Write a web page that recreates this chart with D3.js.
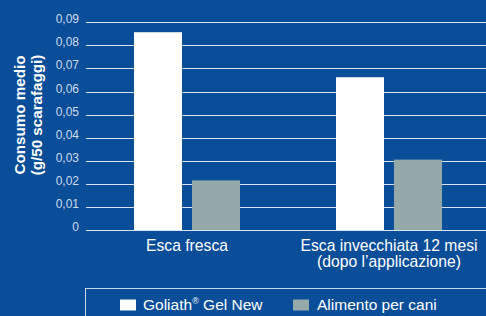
<!DOCTYPE html>
<html><head><meta charset="utf-8">
<script src="https://cdn.jsdelivr.net/npm/d3@7"></script>
<style>html,body{margin:0;padding:0;background:#0a4d98;}svg{display:block;}</style>
</head><body>
<script>
const categories = [["Esca fresca"], ["Esca invecchiata 12 mesi", "(dopo l\u2019applicazione)"]];
const seriesNames = ["Goliath", "Alimento per cani"];
const goliathValues = [0.0857, 0.0662];
const alimentoValues = [0.0215, 0.0305];
const yTicks = [0, 0.01, 0.02, 0.03, 0.04, 0.05, 0.06, 0.07, 0.08, 0.09];
const tickLabels = ["0", "0,01", "0,02", "0,03", "0,04", "0,05", "0,06", "0,07", "0,08", "0,09"];
const colors = ["#ffffff", "#95a8aa"];

const W = 486, H = 316;
const svg = d3.select("body").append("svg").attr("width", W).attr("height", H);
svg.append("rect").attr("width", W).attr("height", H).attr("fill", "#0a4d98");

const font = "'Liberation Sans', Arial, Helvetica, sans-serif";
const y = d3.scaleLinear().domain([0, 0.09]).range([230, 22.3]);
const x0 = d3.scaleBand().domain([0, 1]).range([86, 490]).paddingInner(0).paddingOuter(0);
const x1 = d3.scaleBand().domain([0, 1]).range([-53, 53]).paddingInner(0.1724);

// gridlines
svg.append("g").selectAll("line").data(yTicks).join("line")
  .attr("x1", 86).attr("x2", W).attr("y1", d => Math.round(y(d)) + 0.5).attr("y2", d => Math.round(y(d)) + 0.5)
  .attr("stroke", "#ffffff").attr("stroke-opacity", 0.85).attr("stroke-width", 1);

// tick labels
svg.append("g").selectAll("text").data(yTicks).join("text")
  .attr("x", 79).attr("y", d => y(d) + 1)
  .attr("text-anchor", "end").attr("font-family", font).attr("font-size", 12)
  .attr("fill", "#cddcee").text((d, i) => tickLabels[i]);

// bars
const data = categories.map((c, i) => [goliathValues[i], alimentoValues[i]]);
const groups = svg.append("g").selectAll("g").data(data).join("g")
  .attr("transform", (d, i) => `translate(${x0(i) + x0.bandwidth() / 2},0)`);
groups.selectAll("rect").data(d => d).join("rect")
  .attr("x", (d, j) => x1(j)).attr("width", x1.bandwidth())
  .attr("y", d => y(d)).attr("height", d => y(0) - y(d))
  .attr("fill", (d, j) => colors[j]);

// category labels
const cat = svg.append("g").selectAll("text").data(categories).join("text")
  .attr("x", (d, i) => x0(i) + x0.bandwidth() / 2).attr("y", 250.5)
  .attr("text-anchor", "middle").attr("font-family", font).attr("font-size", 15.7)
  .attr("fill", "#ffffff");
cat.selectAll("tspan").data(d => d).join("tspan")
  .attr("x", function () { return d3.select(this.parentNode).attr("x"); })
  .attr("dy", (d, k) => k === 0 ? 0 : 16.5).text(d => d);

// y title
const yt = svg.append("text").attr("transform", "translate(24.5,115) rotate(-90)")
  .attr("text-anchor", "middle").attr("font-family", font).attr("font-size", 15.2)
  .attr("font-weight", "bold").attr("fill", "#ffffff");
yt.append("tspan").attr("x", 0).attr("dy", 0).text("Consumo medio");
yt.append("tspan").attr("x", 0).attr("dy", 17.5).text("(g/50 scarafaggi)");

// legend
svg.append("rect").attr("x", 85.5).attr("y", 288.5).attr("width", 420).attr("height", 40)
  .attr("fill", "none").attr("stroke", "#c9d6e6").attr("stroke-width", 1);
const leg = [{x: 120, c: colors[0]}, {x: 293, c: colors[1]}];
svg.append("g").selectAll("rect").data(leg).join("rect")
  .attr("x", d => d.x).attr("y", 299.5).attr("width", 16).attr("height", 11).attr("fill", d => d.c);
const t1 = svg.append("text").attr("x", 143).attr("y", 309.5).attr("font-family", font)
  .attr("font-size", 15.5).attr("fill", "#ffffff");
t1.append("tspan").text(seriesNames[0]);
t1.append("tspan").attr("font-size", 9).attr("dy", -6).text("\u00ae");
t1.append("tspan").attr("dy", 6).text(" Gel New");
svg.append("text").attr("x", 317).attr("y", 309.5).attr("font-family", font)
  .attr("font-size", 15.5).attr("fill", "#ffffff").text(seriesNames[1]);
</script>
</body></html>
